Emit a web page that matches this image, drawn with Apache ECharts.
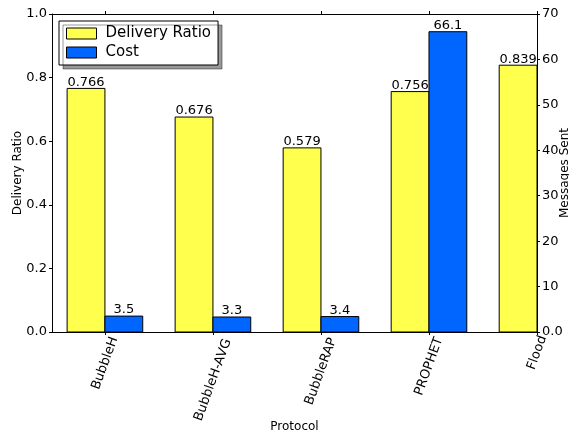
<!DOCTYPE html>
<html lang="en">
<head>
    <meta charset="UTF-8">
    <title>Delivery Ratio and Cost</title>
    <style>
        body { margin: 0; background: #fff; }
        div#main { width: 569px; height: 432px; }
    </style>
</head>
<body>
    <div id="main"></div>
    <script src="https://cdn.jsdelivr.net/npm/echarts@6/dist/echarts.min.js"></script>
    <script>
        const protocols = ["BubbleH", "BubbleH-AVG", "BubbleRAP", "PROPHET", "Flood"];
        const deliveryRatio = [0.766, 0.676, 0.579, 0.756, 0.839];
        // flood cost is off the right edge in the picture
        const cost = [3.5, 3.3, 3.4, 66.1, null];
        const ratioTicks = [0, 0.2, 0.4, 0.6, 0.8, 1.0];
        const costTicks = [0, 10, 20, 30, 40, 50, 60, 70];

        const barW = 0.35;  // bar width in x units, like matplotlib
        const font = "DejaVu Sans";
        const labelPos = protocols.map((p, i) => i + barW);
        const yellow = '#ffff4d', blue = '#0066ff';
        const rot = 70;

        const myChart = echarts.init(document.getElementById('main'));

        // matplotlib centres the rotated label's box on the tick; echarts pins the
        // end of the text there. push each label sideways with an empty first line.
        const ctx = document.createElement('canvas').getContext('2d');
        ctx.font = '13px "' + font + '"';
        const rich = { n: { fontSize: 13, fontFamily: font, color: '#000', lineHeight: 15 } };
        protocols.forEach((p, i) => {
            const w = ctx.measureText(p).width;
            const shift = w * Math.cos(rot * Math.PI / 180) / 2;
            rich['s' + i] = { fontSize: 1, lineHeight: 2 * shift / Math.sin(rot * Math.PI / 180) };
        });

        const xTick = () => ({ show: true, inside: false, length: 3, customValues: labelPos,
                               lineStyle: { color: '#000', width: 1 } });
        const yTick = () => ({ show: true, inside: false, length: 3,
                               lineStyle: { color: '#000', width: 1 } });
        const axLine = () => ({ show: true, onZero: false, lineStyle: { color: '#000' } });

        // draw a bar [x - w/2, x + w/2] x [0, y] through the axis scales
        function barItem(digits) {
            return (params, api) => {
                const x = api.value(0), y = api.value(1);
                if (y == null || isNaN(y)) return null;
                const p0 = api.coord([x - barW / 2, 0]);
                const p1 = api.coord([x + barW / 2, y]);
                return {
                    type: 'rect',
                    shape: { x: p0[0], y: p1[1], width: p1[0] - p0[0], height: p0[1] - p1[1] },
                    style: { fill: api.visual('color'), stroke: '#000', lineWidth: 1 },
                    textContent: {
                        style: { text: y.toFixed(digits), fill: '#000', fontSize: 13, fontFamily: font }
                    },
                    textConfig: { position: 'top', distance: -1 }
                };
            };
        }

        const option = {
            animation: false,
            textStyle: { fontFamily: font },
            legend: {
                orient: 'vertical',
                left: 59, top: 21,
                itemWidth: 30, itemHeight: 11, itemGap: 4,
                padding: [5, 7, 5, 7],
                backgroundColor: '#fff',
                borderColor: '#000', borderWidth: 1,
                shadowColor: 'rgba(0,0,0,0.4)', shadowOffsetX: 4, shadowOffsetY: 4, shadowBlur: 0,
                textStyle: { fontFamily: font, fontSize: 15, color: '#000', padding: [0, 0, 0, 4] },
                data: [
                    { name: 'Delivery Ratio', icon: 'rect', itemStyle: { color: yellow, borderColor: '#000', borderWidth: 1 } },
                    { name: 'Cost', icon: 'rect', itemStyle: { color: blue, borderColor: '#000', borderWidth: 1 } }
                ]
            },
            grid: { left: 52, top: 14, right: 32, bottom: 100, outerBoundsMode: 'none', containLabel: false },
            xAxis: [
                {
                    type: 'value', position: 'bottom',
                    min: -0.14, max: 4.35,
                    name: 'Protocol', nameLocation: 'middle', nameGap: 89, nameMoveOverlap: false,
                    nameTextStyle: { fontSize: 12, color: '#000' },
                    axisLine: axLine(),
                    axisTick: xTick(),
                    splitLine: { show: false },
                    axisLabel: {
                        customValues: labelPos,
                        rotate: rot, color: '#000', margin: 2,
                        formatter: v => {
                            const i = Math.round(v - barW);
                            return '{s' + i + '| }\n{n|' + protocols[i] + '}';
                        },
                        rich: rich
                    }
                },
                {
                    type: 'value', position: 'top',
                    min: -0.14, max: 4.35,
                    axisLine: axLine(),
                    axisTick: xTick(),
                    splitLine: { show: false },
                    axisLabel: { show: false }
                }
            ],
            yAxis: [
                {
                    type: 'value', position: 'left',
                    min: ratioTicks[0], max: ratioTicks[ratioTicks.length - 1], interval: 0.2,
                    name: 'Delivery Ratio', nameLocation: 'middle', nameRotate: 90, nameGap: 28,
                    nameMoveOverlap: false,
                    nameTextStyle: { fontSize: 12, color: '#000' },
                    axisLine: axLine(),
                    axisTick: yTick(),
                    splitLine: { show: false },
                    axisLabel: { fontSize: 13, color: '#000', margin: 5, formatter: v => v.toFixed(1) }
                },
                {
                    type: 'value', position: 'right',
                    min: costTicks[0], max: costTicks[costTicks.length - 1], interval: 10,
                    name: 'Messages Sent', nameLocation: 'middle', nameRotate: 90, nameGap: 22,
                    nameMoveOverlap: false,
                    nameTextStyle: { fontSize: 12, color: '#000' },
                    axisLine: axLine(),
                    axisTick: yTick(),
                    splitLine: { show: false },
                    axisLabel: { fontSize: 13, color: '#000', margin: 5, formatter: v => v === 0 ? '0.0' : String(v) }
                }
            ],
            series: [
                {
                    name: 'Delivery Ratio', type: 'custom',
                    xAxisIndex: 0, yAxisIndex: 0, clip: true,
                    itemStyle: { color: yellow },
                    renderItem: barItem(3),
                    encode: { x: 0, y: 1 },
                    data: deliveryRatio.map((v, i) => [i + barW / 2, v])
                },
                {
                    name: 'Cost', type: 'custom',
                    xAxisIndex: 0, yAxisIndex: 1, clip: true,
                    itemStyle: { color: blue },
                    renderItem: barItem(1),
                    encode: { x: 0, y: 1 },
                    data: cost.map((v, i) => [i + barW * 1.5, v])
                }
            ]
        };

        myChart.setOption(option);
    </script>
</body>
</html>
